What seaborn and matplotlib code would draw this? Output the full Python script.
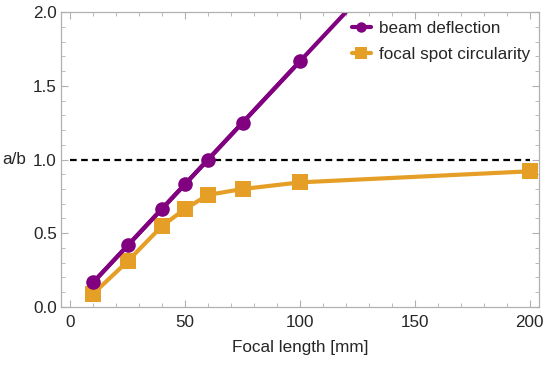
import numpy as np
import pandas as pd
import seaborn as sns
import matplotlib.pyplot as plt
from matplotlib.ticker import MultipleLocator
from matplotlib.lines import Line2D

focal = [10, 25, 40, 50, 60, 75, 100]
deflection = [0.167, 0.417, 0.667, 0.833, 1.0, 1.25, 1.667]
fit_focal = [10, 200]
fit_deflection = [0.167, 3.333]

focal_spot = [10, 25, 40, 50, 60, 75, 100, 200]
circularity = [0.09, 0.31, 0.55, 0.665, 0.76, 0.80, 0.845, 0.92]

purple = "#800080"
orange = "#E69F26"
fs = 12.3

sns.set_style("ticks")
plt.rcParams['font.family'] = ['Liberation Sans', 'DejaVu Sans']

fig = plt.figure(figsize=(5.5, 3.65), dpi=100)
ax = fig.add_axes([0.111, 0.159, 0.869, 0.808])

df_b = pd.DataFrame({"x": focal, "y": deflection})
df_fit = pd.DataFrame({"x": fit_focal, "y": fit_deflection})
df_c = pd.DataFrame({"x": focal_spot, "y": circularity})

ax.plot([0, 200], [1, 1], color="black", lw=1.6, ls=(0, (3, 2)), zorder=1)
sns.lineplot(data=df_fit, x="x", y="y", color=purple, lw=3, ax=ax, zorder=2)
sns.lineplot(data=df_c, x="x", y="y", color=orange, lw=3, marker="s",
             markersize=11, markeredgewidth=0, ax=ax, zorder=3)
sns.lineplot(data=df_b, x="x", y="y", color=purple, lw=3, marker="o",
             markersize=10.5, markeredgewidth=0, ax=ax, zorder=4)

ax.set_xlim(-4, 204)
ax.set_ylim(0, 2)
ax.xaxis.set_major_locator(MultipleLocator(50))
ax.xaxis.set_minor_locator(MultipleLocator(10))
ax.yaxis.set_major_locator(MultipleLocator(0.5))
ax.yaxis.set_minor_locator(MultipleLocator(0.1))
ax.yaxis.set_major_formatter(plt.FormatStrFormatter('%.1f'))
ax.tick_params(which="both", direction="in", top=True, right=True,
               labeltop=False, labelright=False, color="#b0b0b0",
               labelsize=fs)
ax.tick_params(axis="x", which="major", pad=6)
ax.tick_params(axis="y", which="major", pad=3)
ax.tick_params(which="major", length=5)
ax.tick_params(which="minor", length=3)
for s in ax.spines.values():
    s.set_color("#b0b0b0")
    s.set_linewidth(0.9)

ax.set_xlabel("Focal length [mm]", fontsize=fs, labelpad=7)
ax.set_ylabel("")
ax.annotate("a/b", xy=(0, 1.0), xycoords=("axes fraction", "data"),
            xytext=(-25, 0), textcoords="offset points",
            ha="right", va="center", fontsize=fs)

handles = [
    Line2D([], [], color=purple, lw=3, marker="o", markersize=7.5, markeredgewidth=0),
    Line2D([], [], color=orange, lw=3, marker="s", markersize=8.5, markeredgewidth=0),
]
ax.legend(handles, ["beam deflection", "focal spot circularity"], loc="upper right",
          frameon=False, fontsize=fs, handlelength=1.1, borderaxespad=0.1,
          handletextpad=0.5, labelspacing=0.65, bbox_to_anchor=(1.0, 1.0))

fig.savefig("out.png", dpi=100)
